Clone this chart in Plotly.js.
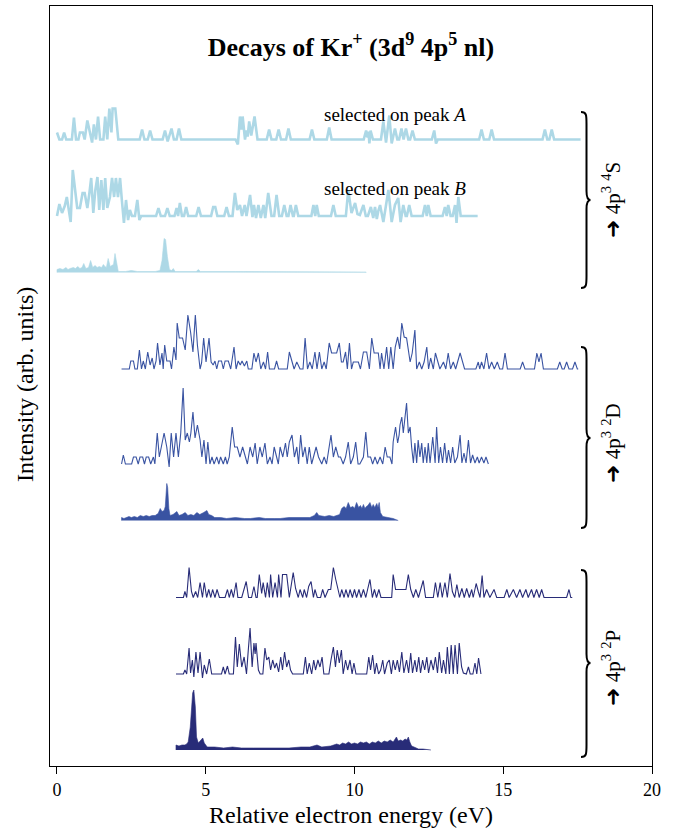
<!DOCTYPE html>
<html><head><meta charset="utf-8">
<script src="https://cdn.plot.ly/plotly-3.0.1.min.js"></script>
<style>html,body{margin:0;padding:0;background:#fff}</style>
</head><body><div id="chart" style="width:675px;height:832px"></div>
<script>
// ---- data: [energy (eV), intensity (arb. units)] ----
const xTicks = [0, 5, 10, 15, 20];

const s4_peakA = [[0.00,7],[0.08,0],[0.17,0],[0.24,7],[0.31,0],[0.50,0],[0.57,22],[0.64,0],[0.72,0],[0.77,7],[0.87,7],[0.93,0],[1.02,19],[1.11,7],[1.18,-3],[1.24,15],[1.31,0],[1.38,23],[1.45,0],[1.56,0],[1.62,23],[1.69,0],[1.76,31],[1.83,7],[1.87,31],[1.96,31],[2.06,0],[2.78,0],[2.86,10],[2.94,0],[3.05,0],[3.13,9],[3.21,0],[3.55,0],[3.63,9],[3.72,-2],[3.85,11],[3.93,0],[4.02,0],[4.10,11],[4.18,0],[6.00,0],[6.08,-5],[6.15,23],[6.20,10],[6.24,23],[6.32,0],[6.37,9],[6.41,3],[6.46,18],[6.53,4],[6.64,23],[6.74,0],[7.05,0],[7.13,10],[7.21,0],[7.37,0],[7.45,10],[7.53,0],[7.70,0],[7.78,11],[7.86,0],[8.49,0],[8.57,10],[8.65,0],[9.07,0],[9.15,12],[9.23,0],[10.31,0],[10.39,9],[10.44,2],[10.47,8],[10.50,-4],[10.54,9],[10.62,0],[10.89,0],[10.97,18],[11.06,-3],[11.17,24],[11.25,-4],[11.36,11],[11.44,0],[11.50,0],[11.58,11],[11.65,0],[11.73,11],[11.81,0],[11.87,0],[11.95,9],[12.03,0],[12.60,0],[12.68,9],[12.74,-4],[12.80,0],[14.19,0],[14.27,10],[14.35,0],[14.53,0],[14.61,10],[14.69,0],[16.32,0],[16.40,10],[16.48,0],[16.55,0],[16.63,10],[16.71,0],[17.60,0]];

const s4_peakB = [[0.00,0],[0.08,12],[0.17,3],[0.26,10],[0.33,19],[0.39,9],[0.46,-6],[0.53,46],[0.59,31],[0.64,19],[0.68,8],[0.77,8],[0.86,23],[0.93,23],[1.02,8],[1.09,23],[1.15,38],[1.22,3],[1.29,26],[1.36,39],[1.42,6],[1.49,36],[1.56,6],[1.62,38],[1.69,8],[1.78,19],[1.85,38],[1.92,19],[1.98,38],[2.05,19],[2.12,38],[2.18,16],[2.25,-7],[2.32,16],[2.39,-4],[2.45,6],[2.52,0],[2.62,0],[2.70,16],[2.77,-4],[2.83,0],[3.33,0],[3.41,8],[3.49,0],[3.63,0],[3.71,8],[3.79,0],[3.95,0],[4.02,8],[4.07,0],[4.13,13],[4.20,0],[4.27,0],[4.34,9],[4.41,0],[4.68,0],[4.76,9],[4.84,0],[5.18,0],[5.25,9],[5.32,9],[5.39,0],[5.62,0],[5.70,9],[5.78,0],[5.90,0],[5.98,23],[6.06,6],[6.15,11],[6.22,0],[6.31,11],[6.37,0],[6.49,21],[6.57,-1],[6.62,11],[6.69,-2],[6.77,11],[6.85,-2],[6.94,11],[7.00,-2],[7.10,23],[7.21,0],[7.30,0],[7.38,21],[7.47,0],[7.56,0],[7.64,11],[7.72,0],[7.78,0],[7.85,11],[7.93,0],[7.96,0],[8.03,11],[8.11,0],[8.55,0],[8.62,11],[8.68,0],[8.73,11],[8.80,0],[9.21,0],[9.29,11],[9.37,0],[9.71,0],[9.79,26],[9.90,3],[10.02,13],[10.10,2],[10.18,1],[10.30,11],[10.38,0],[10.45,0],[10.55,9],[10.63,-2],[10.69,9],[10.75,-3],[10.80,5],[10.86,11],[10.97,-6],[11.06,11],[11.14,26],[11.25,-6],[11.36,11],[11.47,18],[11.55,-6],[11.64,11],[11.72,0],[11.76,0],[11.84,11],[11.92,0],[12.29,0],[12.37,11],[12.43,0],[12.48,11],[12.56,0],[12.96,0],[13.04,9],[13.10,0],[13.15,11],[13.23,0],[13.30,0],[13.38,11],[13.43,-7],[13.49,19],[13.57,0],[14.14,0]];

const s4_total = [[0.00,3],[0.10,4],[0.20,3],[0.30,5],[0.37,3],[0.44,4],[0.55,5],[0.62,4],[0.70,6],[0.77,4],[0.84,5],[0.90,9],[0.97,4],[1.06,5],[1.13,12],[1.20,5],[1.28,7],[1.35,5],[1.42,6],[1.50,5],[1.56,8],[1.61,6],[1.66,5],[1.72,14],[1.79,6],[1.84,7],[1.90,8],[1.95,19],[2.00,9],[2.06,1],[2.30,1],[2.50,2],[2.70,1],[3.00,1],[3.30,1],[3.46,2],[3.53,12],[3.60,34],[3.65,33],[3.71,16],[3.78,3],[3.85,2],[3.91,4],[3.97,1],[4.68,1],[4.75,3],[4.82,1],[6.00,1],[8.00,1],[10.39,0.5]];

const d2_peakA = [[2.17,0],[2.43,0],[2.48,8],[2.57,8],[2.62,0],[2.70,0],[2.77,19],[2.84,0],[2.90,8],[2.97,0],[3.05,17],[3.13,4],[3.20,11],[3.26,0],[3.33,8],[3.38,26],[3.46,4],[3.53,16],[3.57,0],[3.62,24],[3.69,8],[3.80,8],[3.85,0],[3.93,22],[4.00,9],[4.04,46],[4.11,31],[4.22,31],[4.31,19],[4.40,54],[4.49,37],[4.57,17],[4.65,54],[4.72,24],[4.81,0],[4.86,6],[4.93,31],[5.01,7],[5.11,31],[5.18,7],[5.25,4],[5.31,8],[5.37,0],[5.43,8],[5.53,8],[5.59,0],[5.65,8],[5.76,8],[5.84,0],[5.95,22],[6.02,0],[6.09,8],[6.16,4],[6.22,8],[6.30,3],[6.38,8],[6.43,0],[6.55,0],[6.62,16],[6.69,7],[6.77,16],[6.85,0],[6.94,7],[7.01,0],[7.08,17],[7.14,0],[7.31,0],[7.38,8],[7.45,0],[7.74,0],[7.81,17],[7.89,7],[7.97,0],[8.06,7],[8.17,0],[8.27,0],[8.34,31],[8.42,0],[8.50,7],[8.58,0],[8.67,17],[8.74,0],[8.82,17],[8.90,0],[8.98,7],[9.05,0],[9.15,26],[9.23,16],[9.40,16],[9.49,26],[9.56,7],[9.62,7],[9.70,17],[9.76,0],[9.83,26],[9.90,0],[9.96,7],[10.13,7],[10.20,0],[10.30,17],[10.41,17],[10.50,0],[10.58,31],[10.66,16],[10.80,16],[10.86,0],[10.91,16],[10.99,0],[11.08,22],[11.15,0],[11.22,22],[11.30,0],[11.37,22],[11.45,32],[11.52,20],[11.59,46],[11.67,32],[11.75,31],[11.87,7],[11.94,16],[12.03,39],[12.09,0],[12.18,7],[12.26,0],[12.34,7],[12.43,22],[12.49,0],[12.56,11],[12.65,0],[12.72,16],[12.79,7],[12.87,0],[12.99,7],[13.07,0],[13.15,16],[13.23,0],[13.32,7],[13.40,0],[13.55,16],[13.63,7],[13.70,0],[14.08,0],[14.16,7],[14.21,0],[14.27,7],[14.35,0],[14.44,16],[14.52,0],[14.61,7],[14.70,0],[14.80,7],[14.88,0],[14.98,0],[15.06,16],[15.14,0],[15.57,0],[15.65,7],[15.73,0],[16.05,0],[16.13,16],[16.20,7],[16.27,16],[16.35,0],[16.82,0],[16.90,7],[16.98,0],[17.05,0],[17.13,7],[17.21,0],[17.33,0],[17.41,7],[17.49,0],[17.52,0]];

const d2_peakB = [[2.17,0],[2.23,9],[2.30,0],[2.51,0],[2.57,7],[2.66,7],[2.73,0],[2.79,7],[2.88,7],[2.94,0],[3.00,7],[3.08,7],[3.15,0],[3.22,7],[3.24,7],[3.29,0],[3.37,31],[3.44,7],[3.51,17],[3.60,31],[3.69,17],[3.77,-3],[3.84,31],[3.92,7],[4.00,31],[4.08,7],[4.16,31],[4.24,76],[4.31,24],[4.38,31],[4.45,22],[4.50,31],[4.57,52],[4.64,26],[4.72,39],[4.81,24],[4.87,7],[4.94,24],[5.01,0],[5.07,22],[5.14,0],[5.21,7],[5.28,0],[5.37,7],[5.44,0],[5.50,7],[5.59,0],[5.66,7],[5.72,0],[5.79,7],[5.89,37],[5.97,17],[6.06,17],[6.15,7],[6.24,17],[6.32,7],[6.40,0],[6.49,17],[6.58,7],[6.66,21],[6.73,0],[6.82,17],[6.90,7],[6.99,21],[7.07,0],[7.16,7],[7.23,0],[7.30,17],[7.38,7],[7.44,0],[7.50,17],[7.59,7],[7.68,21],[7.74,7],[7.81,22],[7.90,29],[7.98,7],[8.06,17],[8.12,0],[8.19,29],[8.26,7],[8.34,17],[8.41,0],[8.48,17],[8.56,0],[8.62,7],[8.71,17],[8.79,7],[8.90,0],[8.98,7],[9.06,0],[9.21,29],[9.29,7],[9.37,17],[9.46,7],[9.53,7],[9.62,0],[9.70,7],[9.79,22],[9.87,0],[9.96,7],[10.04,22],[10.12,0],[10.18,0],[10.30,7],[10.38,32],[10.45,7],[10.54,7],[10.61,0],[10.69,7],[10.77,0],[10.86,7],[10.95,0],[11.03,17],[11.10,7],[11.19,7],[11.26,0],[11.30,22],[11.38,37],[11.45,21],[11.50,29],[11.53,39],[11.59,47],[11.64,31],[11.70,46],[11.75,61],[11.81,31],[11.87,37],[11.92,17],[11.98,1],[12.03,21],[12.09,1],[12.14,24],[12.20,7],[12.26,21],[12.31,1],[12.37,17],[12.43,1],[12.48,21],[12.54,1],[12.63,27],[12.71,1],[12.76,37],[12.83,1],[12.89,17],[12.96,1],[13.03,21],[13.10,1],[13.16,14],[13.23,1],[13.30,17],[13.37,1],[13.46,7],[13.55,29],[13.61,1],[13.68,11],[13.75,1],[13.83,24],[13.90,1],[13.97,9],[14.05,1],[14.13,7],[14.19,1],[14.27,7],[14.35,1],[14.42,7],[14.50,0]];

const d2_total = [[2.17,3],[2.25,2],[2.35,3],[2.42,4],[2.50,3],[2.60,4],[2.70,3],[2.80,5],[2.90,4],[3.00,5],[3.10,4],[3.20,5],[3.30,5],[3.40,7],[3.47,12],[3.53,9],[3.60,10],[3.64,14],[3.69,37],[3.72,33],[3.76,12],[3.80,5],[3.90,6],[4.03,9],[4.10,5],[4.20,6],[4.31,8],[4.40,5],[4.50,6],[4.60,5],[4.70,8],[4.80,6],[4.93,8],[5.04,10],[5.10,6],[5.20,5],[5.30,3],[5.50,3],[5.70,2],[6.00,3],[6.30,2],[6.50,2],[6.80,3],[7.00,2],[7.30,2],[7.50,2],[7.80,3],[8.00,3],[8.30,3],[8.50,3],[8.65,5],[8.73,8],[8.80,5],[9.00,4],[9.15,5],[9.30,4],[9.50,6],[9.57,12],[9.65,14],[9.72,12],[9.79,18],[9.86,13],[9.95,14],[10.00,12],[10.07,18],[10.14,13],[10.20,15],[10.25,12],[10.30,16],[10.35,12],[10.40,14],[10.45,15],[10.52,18],[10.58,13],[10.63,16],[10.68,13],[10.75,17],[10.79,13],[10.83,18],[10.87,8],[10.95,4],[11.10,3],[11.30,2],[11.47,0]];

const p2_peakA = [[4.00,0],[4.25,0],[4.30,6],[4.36,0],[4.44,30],[4.52,6],[4.58,0],[4.66,6],[4.73,0],[4.81,15],[4.89,0],[4.95,15],[5.03,0],[5.10,8],[5.17,0],[5.23,8],[5.31,0],[5.38,8],[5.46,0],[5.65,0],[5.73,8],[5.79,0],[5.86,8],[5.93,0],[6.02,15],[6.08,0],[6.21,0],[6.28,8],[6.36,16],[6.44,0],[6.54,0],[6.62,11],[6.69,0],[6.73,0],[6.80,23],[6.88,4],[6.93,15],[7.01,0],[7.07,15],[7.14,0],[7.18,23],[7.25,0],[7.33,15],[7.41,0],[7.45,23],[7.53,0],[7.58,23],[7.72,23],[7.81,0],[7.94,25],[8.02,9],[8.11,0],[8.17,8],[8.26,0],[8.31,8],[8.39,0],[8.46,11],[8.54,16],[8.62,0],[8.67,8],[8.75,0],[8.86,0],[8.93,8],[9.01,0],[9.12,8],[9.20,8],[9.29,30],[9.37,18],[9.46,8],[9.51,0],[9.57,8],[9.65,0],[9.71,8],[9.79,0],[9.85,8],[9.93,0],[10.00,8],[10.07,0],[10.15,8],[10.22,0],[10.30,8],[10.38,0],[10.44,8],[10.52,18],[10.60,0],[10.67,8],[10.74,0],[10.82,8],[10.89,0],[11.25,0],[11.30,23],[11.38,8],[11.64,8],[11.73,8],[11.81,23],[11.89,8],[11.98,0],[12.06,8],[12.15,0],[12.23,8],[12.31,17],[12.39,0],[12.65,0],[12.72,15],[12.80,0],[12.88,15],[12.95,0],[13.04,15],[13.12,0],[13.21,24],[13.29,6],[13.37,0],[13.44,13],[13.52,0],[13.61,9],[13.69,0],[13.77,9],[13.86,0],[13.94,8],[13.99,0],[14.09,14],[14.16,6],[14.22,0],[14.29,22],[14.35,0],[14.44,8],[14.55,0],[14.69,8],[14.78,0],[15.03,0],[15.12,8],[15.20,0],[15.34,8],[15.45,0],[15.56,8],[15.65,0],[15.76,8],[15.84,0],[15.95,8],[16.03,0],[16.12,8],[16.21,0],[16.29,8],[16.37,0],[17.13,0],[17.21,8],[17.27,0],[17.32,0]];

const p2_peakB = [[4.00,0],[4.25,0],[4.30,4],[4.36,0],[4.44,26],[4.49,1],[4.55,14],[4.60,-3],[4.67,22],[4.74,1],[4.81,22],[4.89,-4],[4.95,9],[5.03,0],[5.12,15],[5.20,0],[5.53,0],[5.59,7],[5.65,0],[5.73,8],[5.79,0],[5.93,0],[6.00,37],[6.06,7],[6.13,30],[6.21,7],[6.29,17],[6.37,0],[6.43,24],[6.49,46],[6.56,7],[6.62,31],[6.66,20],[6.69,31],[6.77,4],[6.83,0],[6.92,0],[6.99,26],[7.05,14],[7.12,17],[7.18,4],[7.25,14],[7.32,6],[7.38,11],[7.45,2],[7.52,17],[7.58,4],[7.65,22],[7.72,7],[7.79,14],[7.85,4],[7.92,0],[8.28,0],[8.35,17],[8.41,0],[8.48,11],[8.56,0],[8.63,14],[8.69,4],[8.77,14],[8.84,7],[8.91,17],[8.97,0],[9.14,0],[9.21,14],[9.29,27],[9.36,7],[9.42,24],[9.49,11],[9.56,24],[9.62,0],[9.70,14],[9.77,4],[9.85,14],[9.92,0],[9.98,11],[10.05,0],[10.41,0],[10.48,17],[10.54,4],[10.61,19],[10.68,0],[10.74,11],[10.81,0],[10.88,4],[10.95,14],[11.01,0],[11.10,11],[11.17,14],[11.24,0],[11.30,14],[11.37,4],[11.44,14],[11.51,2],[11.59,22],[11.66,1],[11.75,14],[11.82,1],[11.89,21],[11.95,1],[12.03,14],[12.09,2],[12.16,17],[12.22,1],[12.29,14],[12.36,4],[12.43,17],[12.49,1],[12.57,14],[12.65,4],[12.72,17],[12.79,1],[12.85,22],[12.93,1],[12.99,14],[13.07,0],[13.12,27],[13.19,0],[13.25,29],[13.32,0],[13.38,29],[13.46,0],[13.52,31],[13.60,7],[13.66,1],[13.76,0],[13.83,7],[13.89,0],[13.98,0],[14.05,11],[14.11,0],[14.17,16],[14.25,0]];

const p2_total = [[4.00,5],[4.10,4],[4.20,5],[4.30,5],[4.36,6],[4.41,8],[4.48,23],[4.56,57],[4.60,60],[4.65,43],[4.69,13],[4.75,7],[4.83,10],[4.90,12],[4.95,7],[5.05,3],[5.30,3],[5.60,2],[5.90,3],[6.20,2],[6.60,2],[7.00,2],[7.40,2],[7.80,2],[8.20,3],[8.50,3],[8.74,5],[8.90,3],[9.20,4],[9.40,6],[9.50,5],[9.60,7],[9.70,6],[9.80,8],[9.90,6],[10.00,7],[10.10,6],[10.20,8],[10.30,7],[10.40,8],[10.50,6],[10.60,8],[10.70,7],[10.80,9],[10.90,7],[11.00,9],[11.10,8],[11.20,10],[11.30,8],[11.35,10],[11.41,13],[11.47,9],[11.55,10],[11.62,9],[11.70,11],[11.76,10],[11.81,13],[11.86,8],[11.92,4],[12.00,3],[12.15,1],[12.30,1],[12.57,0]];

// ---- styling / stacking (vertical offsets in pixel-like units) ----
const C4S = '#ADD8E6', C2D = '#3953A2', C2P = '#282C78';
const series = [
  {pts: s4_peakA, base: 139.5, color: C4S, width: 2.6, fill: false},
  {pts: s4_peakB, base: 216,   color: C4S, width: 2.6, fill: false},
  {pts: s4_total, base: 272.5, color: C4S, width: 0.6, fill: true},
  {pts: d2_peakA, base: 369,   color: C2D, width: 1.1, fill: false},
  {pts: d2_peakB, base: 464,   color: C2D, width: 1.1, fill: false},
  {pts: d2_total, base: 520.5, color: C2D, width: 0.6, fill: true},
  {pts: p2_peakA, base: 597.5, color: C2P, width: 1.1, fill: false},
  {pts: p2_peakB, base: 674,   color: C2P, width: 1.1, fill: false},
  {pts: p2_total, base: 750,   color: C2P, width: 0.6, fill: true}
];

const traces = series.map(s => {
  const xs = s.pts.map(p => p[0]);
  const ys = s.pts.map(p => -s.base + p[1]);
  if (s.fill) {
    return {x: [xs[0], ...xs, xs[xs.length-1]], y: [-s.base, ...ys, -s.base],
      mode: 'lines', fill: 'toself', fillcolor: s.color,
      line: {color: s.color, width: s.width}, hoverinfo: 'skip'};
  }
  return {x: xs, y: ys, mode: 'lines', line: {color: s.color, width: s.width}, hoverinfo: 'skip'};
});

// helpers for layout geometry (pixel -> axis units)
const bx = px => (px - 57) / 29.75;
const by = py => -py;
function brace(top, tip, bot) {
  const xl = bx(581), xm = bx(586.5), xt = bx(590.5), xc = bx(588);
  return `M ${xl},${by(top)} C ${xm},${by(top)} ${xm},${by(top+3)} ${xm},${by(top+12)} ` +
    `L ${xm},${by(tip-9)} C ${xm},${by(tip-2)} ${xc},${by(tip)} ${xt},${by(tip)} ` +
    `C ${xc},${by(tip)} ${xm},${by(tip+2)} ${xm},${by(tip+9)} ` +
    `L ${xm},${by(bot-12)} C ${xm},${by(bot-3)} ${xm},${by(bot)} ${xl},${by(bot)}`;
}
const serif = 'Liberation Serif, Times New Roman, serif';
const arrow = '<span style="font-family:DejaVu Sans;font-size:22px"><b>➜</b></span>';
const braceLabel = (t, py) => ({x: bx(611), y: by(py), xref: 'x', yref: 'y', text: arrow + ' ' + t,
  textangle: -90, xanchor: 'center', yanchor: 'middle', showarrow: false,
  font: {family: serif, size: 21, color: '#000'}});

const layout = {
  width: 675, height: 832,
  margin: {l: 50, r: 23, t: 6, b: 66},
  paper_bgcolor: '#fff', plot_bgcolor: '#fff',
  showlegend: false,
  title: {text: '<b>Decays of Kr<sup>+</sup> (3d<sup>9</sup> 4p<sup>5</sup> nl)</b>',
    font: {family: serif, size: 26, color: '#000'}, x: 0.5, xref: 'paper', xanchor: 'center',
    y: 1 - 47/832, yref: 'container', yanchor: 'middle'},
  xaxis: {range: [-0.235, 20], tickvals: xTicks, ticktext: xTicks.map(String),
    ticks: 'outside', ticklen: 7, tickwidth: 1, tickcolor: '#000',
    showline: true, mirror: true, linecolor: '#000', linewidth: 1,
    showgrid: false, zeroline: false,
    tickfont: {family: serif, size: 18, color: '#000'}},
  yaxis: {range: [-766, -6], showticklabels: false, ticks: '',
    showline: true, mirror: true, linecolor: '#000', linewidth: 1,
    showgrid: false, zeroline: false},
  shapes: [
    {type: 'path', path: brace(112, 200, 288), xref: 'x', yref: 'y', line: {color: '#000', width: 2}},
    {type: 'path', path: brace(347, 438, 528), xref: 'x', yref: 'y', line: {color: '#000', width: 2}},
    {type: 'path', path: brace(570, 663, 757), xref: 'x', yref: 'y', line: {color: '#000', width: 2}}
  ],
  annotations: [
    {x: 11.37, y: by(114), xref: 'x', yref: 'y', text: 'selected on peak <i>A</i>', showarrow: false,
      xanchor: 'center', yanchor: 'middle', font: {family: serif, size: 19, color: '#000'}},
    {x: 11.37, y: by(188), xref: 'x', yref: 'y', text: 'selected on peak <i>B</i>', showarrow: false,
      xanchor: 'center', yanchor: 'middle', font: {family: serif, size: 19, color: '#000'}},
    braceLabel('4p<sup>3</sup> <sup>4</sup>S', 200),
    braceLabel('4p<sup>3</sup> <sup>2</sup>D', 443),
    braceLabel('4p<sup>3</sup> <sup>2</sup>P', 668),
    {x: 0.5, y: (766 - 815) / 760, xref: 'paper', yref: 'paper', text: 'Relative electron energy (eV)',
      xanchor: 'center', yanchor: 'middle', showarrow: false, font: {family: serif, size: 24, color: '#000'}},
    {x: (25 - 50) / 602, y: (766 - 385) / 760, xref: 'paper', yref: 'paper', text: 'Intensity (arb. units)',
      xanchor: 'center', yanchor: 'middle', textangle: -90, showarrow: false,
      font: {family: serif, size: 24, color: '#000'}}
  ]
};

Plotly.newPlot('chart', traces, layout, {staticPlot: true, displayModeBar: false});
</script></body></html>
